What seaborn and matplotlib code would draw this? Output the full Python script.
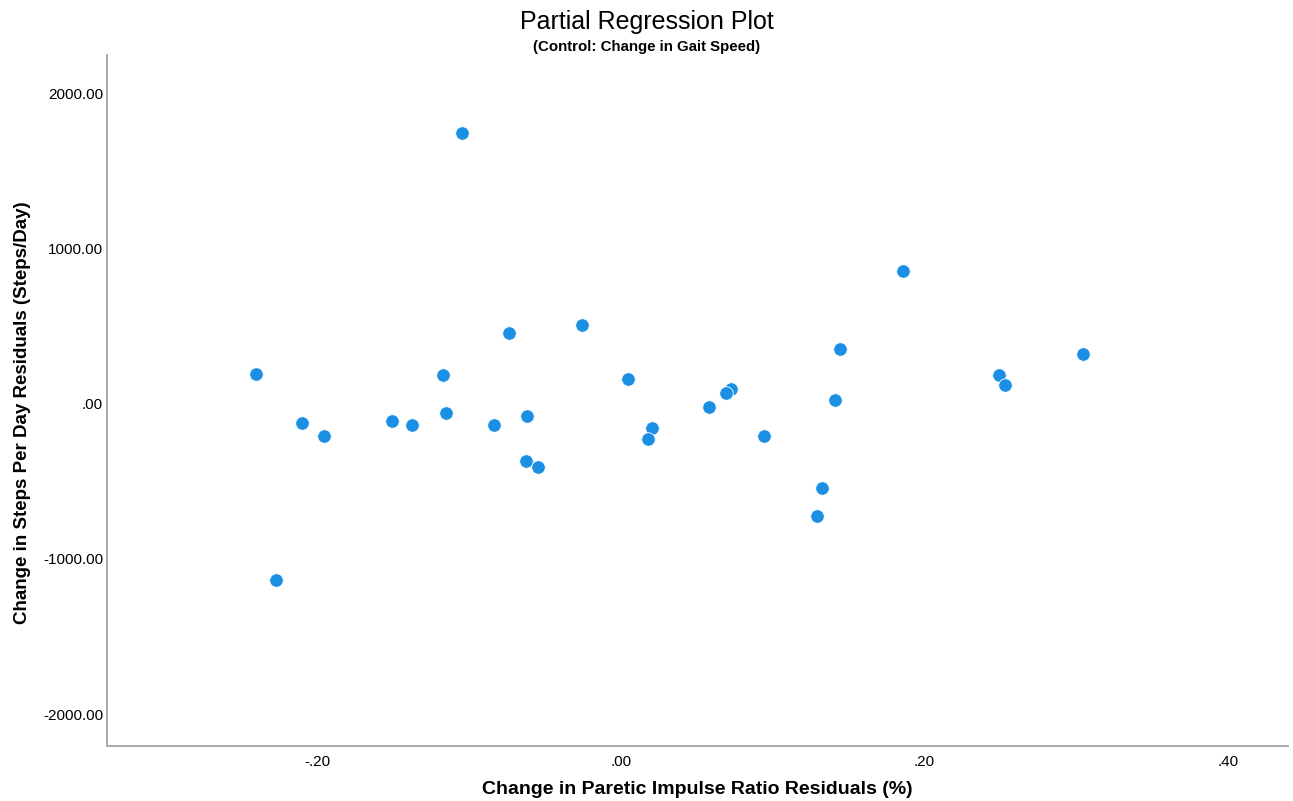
import numpy as np
import pandas as pd
import matplotlib.pyplot as plt
import seaborn as sns

# partial regression residuals
impulse_resid = [-0.105, -0.0736, -0.0255, -0.2407, -0.1173, 0.0048, -0.1155, -0.2104,
                 -0.1957, -0.1507, -0.1379, -0.0835, -0.0617, -0.0628, -0.0547, 0.186,
                 0.1443, 0.3046, 0.2489, 0.2532, 0.0725, 0.0692, 0.141, 0.058,
                 0.0206, 0.0176, 0.094, 0.1323, 0.1292, -0.2273]
steps_resid = [1742, 457, 505, 191, 185, 157, -62, -126,
               -210, -110, -137, -135, -79, -369, -408, 857,
               352, 322, 185, 119, 93, 67, 26, -23,
               -155, -229, -206, -545, -722, -1134]

x_ticks = [-0.2, 0.0, 0.2, 0.4]
x_tick_labels = ["-.20", ".00", ".20", ".40"]
y_ticks = [2000, 1000, 0, -1000, -2000]
y_tick_labels = ["2000.00", "1000.00", ".00", "-1000.00", "-2000.00"]

data = pd.DataFrame({"impulse": impulse_resid, "steps": steps_resid})

sns.set_style("white")
plt.rcParams['font.family'] = ['Liberation Sans', 'DejaVu Sans']
plt.rcParams['text.color'] = 'black'
plt.rcParams['axes.labelcolor'] = 'black'

fig = plt.figure(figsize=(12.93, 8.01), dpi=100)
ax = fig.add_axes([0.083, 0.069, 0.9131, 0.8624])

sns.scatterplot(data=data, x="impulse", y="steps", ax=ax, s=95,
                color="#1a8fe3", edgecolor="white", linewidth=0.6, zorder=3)

ax.set_xlim(-0.3385, 0.4395)
ax.set_ylim(-2204, 2247)
ax.set_xticks(x_ticks)
ax.set_xticklabels(x_tick_labels)
ax.set_yticks(y_ticks)
ax.set_yticklabels(y_tick_labels)
ax.tick_params(length=0, labelsize=11, colors="black")
ax.tick_params(axis="x", pad=7)
ax.tick_params(axis="y", pad=3)

# SPSS look: only left and bottom axis lines, grey
for side in ["top", "right"]:
    ax.spines[side].set_visible(False)
for side in ["left", "bottom"]:
    ax.spines[side].set_color("#aaaaaa")
    ax.spines[side].set_linewidth(1.4)

ax.set_xlabel("Change in Paretic Impulse Ratio Residuals (%)", fontsize=14,
              fontweight="bold", va="center")
ax.set_ylabel("Change in Steps Per Day Residuals (Steps/Day)", fontsize=13.5,
              fontweight="bold", va="center")
ax.xaxis.set_label_coords(0.5, -0.064)
ax.yaxis.set_label_coords(-0.072, 0.482)

fig.text(0.5, 0.9725, "Partial Regression Plot", ha="center", va="center", fontsize=18)
fig.text(0.5, 0.941, "(Control: Change in Gait Speed)", ha="center", va="center",
         fontsize=10.8, fontweight="bold")

plt.savefig("out.png", dpi=100)
